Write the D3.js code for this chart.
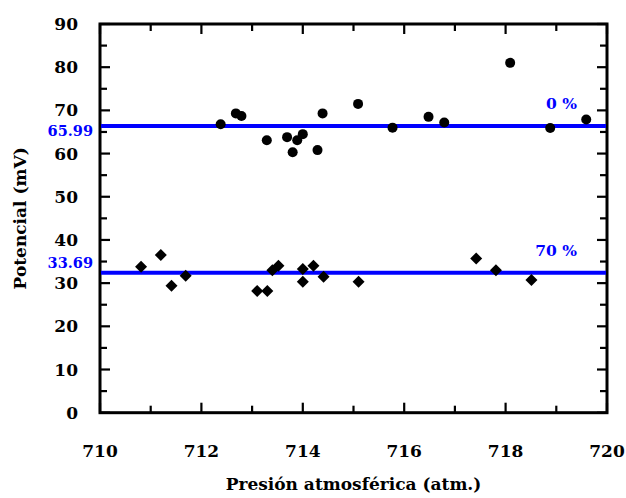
<!DOCTYPE html>
<html><head><meta charset="utf-8">
<script src="https://cdn.jsdelivr.net/npm/d3@7"></script>
<style>
html,body{margin:0;padding:0;background:#fff;}
text{font-family:"DejaVu Serif",serif;font-weight:bold;}
</style></head>
<body><svg id="c" width="626" height="498"></svg>
<script>
// ---- data ----
const circleX = [712.38,712.68,712.79,713.29,713.69,713.80,713.89,714.00,714.29,714.39,715.09,715.77,716.48,716.79,718.09,718.88,719.59];
const circleY = [66.8,69.3,68.7,63.1,63.8,60.3,63.1,64.5,60.8,69.3,71.5,66.0,68.5,67.2,81.0,65.9,67.9];
const diamondX = [710.81,711.20,711.41,711.69,713.10,713.30,713.40,713.52,714.00,714.00,714.21,714.41,715.10,717.42,717.81,718.51];
const diamondY = [33.8,36.5,29.4,31.7,28.2,28.2,33.0,34.0,33.3,30.3,34.0,31.5,30.3,35.7,33.0,30.7];
const lineValues = [66.4, 32.4];
const lineLabels = ["65.99", "33.69"];
const seriesLabels = ["0 %", "70 %"];
const xTicks = [710,712,714,716,718,720];
const yTicks = [0,10,20,30,40,50,60,70,80,90];
const xTitle = "Presión atmosférica (atm.)";
const yTitle = "Potencial (mV)";

// ---- layout ----
const L = 100, R = 607, T = 24, B = 412.7;
const svg = d3.select("#c");
const x = d3.scaleLinear().domain([710,720]).range([L,R]);
const y = d3.scaleLinear().domain([0,90]).range([B,T]);
const blue = "#0000ff";

// minor/major ticks (inward)
const g = svg.append("g").attr("stroke","#000").attr("stroke-width",2.2);
d3.range(710,720.01,1).forEach(v=>{
  const major = Math.round(v)%2===0;
  const len = major?10:7;
  g.append("line").attr("x1",x(v)).attr("x2",x(v)).attr("y1",B).attr("y2",B-len);
  g.append("line").attr("x1",x(v)).attr("x2",x(v)).attr("y1",T).attr("y2",T+len);
});
d3.range(0,90.01,5).forEach(v=>{
  const major = v%10===0;
  const len = major?10:7;
  g.append("line").attr("y1",y(v)).attr("y2",y(v)).attr("x1",L).attr("x2",L+len);
  g.append("line").attr("y1",y(v)).attr("y2",y(v)).attr("x1",R).attr("x2",R-len);
});

// frame
svg.append("rect").attr("x",L).attr("y",T).attr("width",R-L).attr("height",B-T)
  .attr("fill","none").attr("stroke","#000").attr("stroke-width",3);

// tick labels
svg.append("g").selectAll("text").data(yTicks).join("text")
  .attr("x",78).attr("y",d=>y(d)).attr("dy","0.36em").attr("text-anchor","end")
  .attr("font-size",17).text(d=>d);
svg.append("g").selectAll("text").data(xTicks).join("text")
  .attr("x",d=>x(d)).attr("y",457).attr("text-anchor","middle")
  .attr("font-size",17).text(d=>d);

// titles
svg.append("text").attr("x",(L+R)/2).attr("y",490).attr("text-anchor","middle")
  .attr("font-size",17).text(xTitle);
svg.append("text").attr("transform",`translate(26,${(T+B)/2}) rotate(-90)`)
  .attr("text-anchor","middle").attr("font-size",17).text(yTitle);

// mean lines
svg.append("g").selectAll("line").data(lineValues).join("line")
  .attr("x1",L+1).attr("x2",R-1).attr("y1",d=>y(d)).attr("y2",d=>y(d))
  .attr("stroke",blue).attr("stroke-width",4);
const labelDy = [10.5, -5];
svg.append("g").selectAll("text").data(lineLabels).join("text")
  .attr("x",93).attr("y",(d,i)=>y(lineValues[i])+labelDy[i]).attr("text-anchor","end")
  .attr("font-size",14.5).attr("fill",blue).text(d=>d);
const serDy = [-17, -17];
svg.append("g").selectAll("text").data(seriesLabels).join("text")
  .attr("x",577).attr("y",(d,i)=>y(lineValues[i])+serDy[i]).attr("text-anchor","end")
  .attr("font-size",15.5).attr("fill",blue).text(d=>d);

// markers
svg.append("g").selectAll("circle").data(circleX).join("circle")
  .attr("cx",d=>x(d)).attr("cy",(d,i)=>y(circleY[i])).attr("r",5).attr("fill","#000");
const dia = d3.symbol(d3.symbolSquare, 72);
svg.append("g").selectAll("path").data(diamondX).join("path")
  .attr("d",dia).attr("fill","#000")
  .attr("transform",(d,i)=>`translate(${x(d)},${y(diamondY[i])}) rotate(45)`);
</script></body></html>
